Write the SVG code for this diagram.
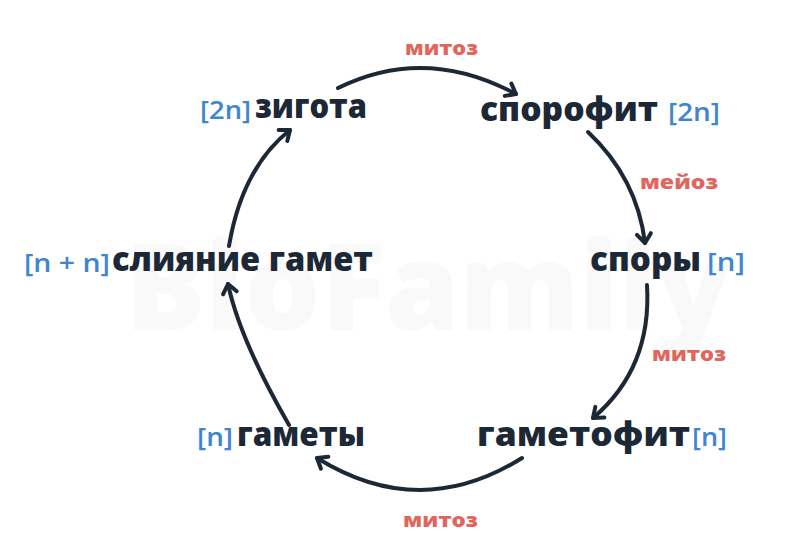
<svg xmlns="http://www.w3.org/2000/svg" width="807" height="552" viewBox="0 0 807 552">
<defs>
<style>
.t{font-family:"Open Sans","Noto Sans","DejaVu Sans",sans-serif;font-weight:800;font-size:34px;fill:#1c2836}
.p{font-family:"Open Sans","Noto Sans","DejaVu Sans",sans-serif;font-weight:600;font-size:26px;fill:#3f86d0}
.r{font-family:"Open Sans","Noto Sans","DejaVu Sans",sans-serif;font-weight:800;font-size:19px;fill:#e2655c}
.a{fill:none;stroke:#1c2836;stroke-width:4;stroke-linecap:round}
.wm{font-family:"Open Sans","Noto Sans",sans-serif;font-weight:800;font-size:120px;fill:#f9f9f9}
</style>
<marker id="ah" markerUnits="userSpaceOnUse" viewBox="-12 -10 16 20" refX="0" refY="0" markerWidth="16" markerHeight="20" orient="auto" overflow="visible">
<path d="M-9,-7 L0,0 L-9,7" fill="none" stroke="#1c2836" stroke-width="4" stroke-linecap="round" stroke-linejoin="round"/>
</marker>
</defs>
<rect width="807" height="552" fill="#ffffff"/>
<text class="wm" x="125" y="330" textLength="605" lengthAdjust="spacingAndGlyphs">BioFamily</text>
<g id="connectors">
<path class="a" d="M338,88 Q425,45 516,94" marker-end="url(#ah)"/>
<path class="a" d="M588,132 Q637,178 645,243" marker-end="url(#ah)"/>
<path class="a" d="M647,285 Q652,368 593,418" marker-end="url(#ah)"/>
<path class="a" d="M522,458 Q420,522 317,458" marker-end="url(#ah)"/>
<path class="a" d="M289,425 Q240,340 228,284" marker-end="url(#ah)"/>
<path class="a" d="M229,246 Q242,168 290,130" marker-end="url(#ah)"/>
</g>
<g id="labels">
<text class="r" x="405" y="55" textLength="73" lengthAdjust="spacingAndGlyphs">митоз</text>
<text class="r" x="640" y="189" textLength="78" lengthAdjust="spacingAndGlyphs">мейоз</text>
<text class="r" x="652" y="361" textLength="74" lengthAdjust="spacingAndGlyphs">митоз</text>
<text class="r" x="403" y="527" textLength="75" lengthAdjust="spacingAndGlyphs">митоз</text>
</g>
<g id="zigota">
<text class="p" x="200" y="119" textLength="51" lengthAdjust="spacingAndGlyphs">[2n]</text>
<text class="t" x="255" y="118" textLength="112" lengthAdjust="spacingAndGlyphs">зигота</text>
</g>
<g id="sporofit">
<text class="t" x="480" y="121" textLength="178" lengthAdjust="spacingAndGlyphs">спорофит</text>
<text class="p" x="668" y="121" textLength="52" lengthAdjust="spacingAndGlyphs">[2n]</text>
</g>
<g id="spory">
<text class="t" x="590" y="271" textLength="111" lengthAdjust="spacingAndGlyphs">споры</text>
<text class="p" x="707" y="271" textLength="38" lengthAdjust="spacingAndGlyphs">[n]</text>
</g>
<g id="gametofit">
<text class="t" x="477" y="446" textLength="213" lengthAdjust="spacingAndGlyphs">гаметофит</text>
<text class="p" x="692" y="446" textLength="35" lengthAdjust="spacingAndGlyphs">[n]</text>
</g>
<g id="gamety">
<text class="p" x="197" y="446" textLength="36" lengthAdjust="spacingAndGlyphs">[n]</text>
<text class="t" x="237" y="446" textLength="128" lengthAdjust="spacingAndGlyphs">гаметы</text>
</g>
<g id="sliyanie">
<text class="p" x="24" y="272" textLength="86" lengthAdjust="spacingAndGlyphs">[n + n]</text>
<text class="t" x="112" y="271" textLength="261" lengthAdjust="spacingAndGlyphs">слияние гамет</text>
</g>
</svg>
